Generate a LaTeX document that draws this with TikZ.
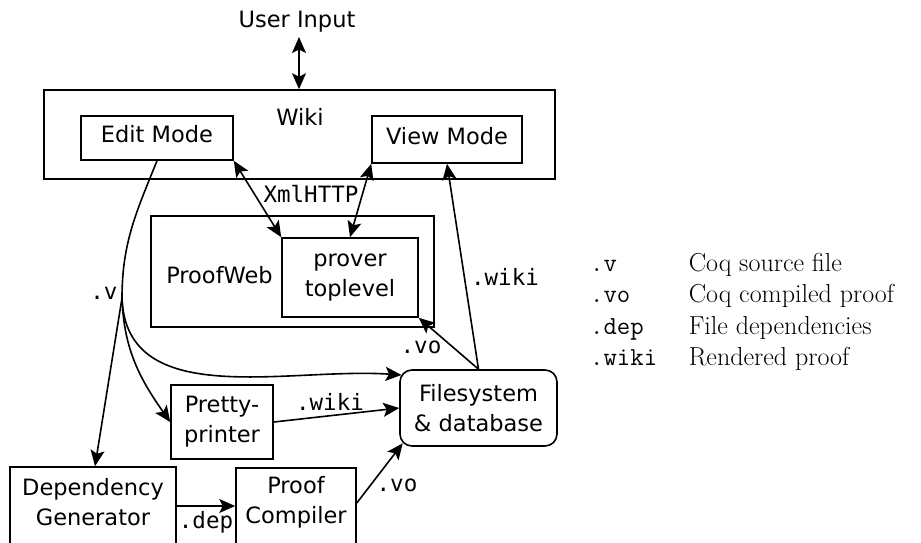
\documentclass[tikz,border=0pt]{standalone}
\usepackage{fontspec}
\newfontfamily\dvsans{DejaVu Sans}
\newfontfamily\dvmono{DejaVu Sans Mono}
\usetikzlibrary{arrows.meta}
\newcommand\sfz{\dvsans\fontsize{22.5}{30}\selectfont}
\newcommand\mfz{\dvmono\fontsize{22.5}{30}\selectfont}
\newcommand\lgrm{\rmfamily\fontsize{26}{31}\selectfont}
\newcommand\lgtt{\ttfamily\fontsize{26}{31}\selectfont}
\begin{document}
\begin{tikzpicture}[x=1pt,y=1pt,
  box/.style={draw, line width=1.6pt, inner sep=0pt, font=\sfz, align=center},
  txt/.style={inner sep=0pt, font=\sfz, align=center},
  lbl/.style={inner sep=0pt, font=\mfz},
  tip/.tip={Stealth[length=16pt,width=14pt,inset=3.5pt]},
  arr/.style={line width=1.6pt, -tip},
  darr/.style={line width=1.6pt, tip-tip},
  ln/.style={line width=1.6pt}]
\useasboundingbox (0,0) rectangle (921,-542);

% boxes
\node[box, minimum width=511, minimum height=89] (wiki) at (299.5,-134.5) {};
\node[txt] (wikilbl) at (300,-117) {Wiki};
\node[box, minimum width=152, minimum height=44, text depth=8pt] (edit) at (157,-138) {Edit Mode};
\node[box, minimum width=150, minimum height=47, text depth=8pt] (view) at (447,-139.5) {View Mode};
\node[box, minimum width=283, minimum height=111] (pw) at (292.5,-271.5) {};
\node[txt] (pwlbl) at (219.5,-275) {ProofWeb};
\node[box, minimum width=136, minimum height=79] (prover) at (350,-277.5) {prover\\toplevel};
\node[box, rounded corners=12pt, minimum width=157, minimum height=76] (fs) at (478.5,-408) {Filesystem\\\& database};
\node[box, minimum width=102, minimum height=74] (pp) at (222,-422) {Pretty-\\printer};
\node[box, minimum width=166, minimum height=81] (dep) at (93,-507.5) {};
\node[txt] (deplbl) at (93,-502) {Dependency\\Generator};
\node[box, minimum width=120, minimum height=80] (pc) at (296,-508) {};
\node[txt] (pclbl) at (296,-502) {Proof\\Compiler};
\node[txt] (ui) at (297,-22) {User Input};

% connectors
\coordinate (uitop) at (299,-37);
\draw[darr] (uitop) -- (uitop |- wiki.north);
\draw[darr] (edit.south east) -- (prover.north west);
\draw[darr] (view.south west) -- (prover.north);
\node[lbl] (xml) at (311,-194) {XmlHTTP};
\draw[arr] (fs.north) -- (view.south);
\draw[arr] (fs.north) -- (prover.south east);
\node[lbl] (wikil1) at (505,-277) {.wiki};
\node[lbl] (vol1) at (421,-347) {.vo};

\coordinate (vb) at (122,-298);
\draw[ln] (edit.south) to[out=-112,in=90] (vb);
\draw[arr] (vb) -- ([xshift=2]dep.north);
\draw[arr] (vb) to[out=-88,in=125] (pp.west);
\draw[arr] (vb) to[out=-88,in=176] ([xshift=2.3,yshift=33]fs.west);
\node[lbl] (vlbl) at (104,-293) {.v};

\draw[arr] (pp.east) -- (fs.west);
\node[lbl] (wikil2) at (330,-402) {.wiki};
\draw[arr] ([yshift=1.5]dep.east) -- ([yshift=1.5]dep.east -| pc.west);
\node[lbl] (deplb) at (206,-522) {.dep};
\draw[arr] ([yshift=5]pc.east) -- ([xshift=3.5,yshift=3.5]fs.south west);
\node[lbl] (vol2) at (397,-485) {.vo};

% legend
\node[anchor=base west, inner sep=0pt, font=\lgtt] (k1) at (590,-271) {.v};
\node[anchor=base west, inner sep=0pt, font=\lgtt] (k2) at (590,-302.5) {.vo};
\node[anchor=base west, inner sep=0pt, font=\lgtt] (k3) at (590,-334) {.dep};
\node[anchor=base west, inner sep=0pt, font=\lgtt] (k4) at (590,-365.5) {.wiki};
\node[anchor=base west, inner sep=0pt, font=\lgrm] (d1) at (688.6,-271) {Coq source file};
\node[anchor=base west, inner sep=0pt, font=\lgrm] (d2) at (688.6,-302.5) {Coq compiled proof};
\node[anchor=base west, inner sep=0pt, font=\lgrm] (d3) at (688.6,-334) {File dependencies};
\node[anchor=base west, inner sep=0pt, font=\lgrm] (d4) at (688.6,-365.5) {Rendered proof};
\end{tikzpicture}
\end{document}
